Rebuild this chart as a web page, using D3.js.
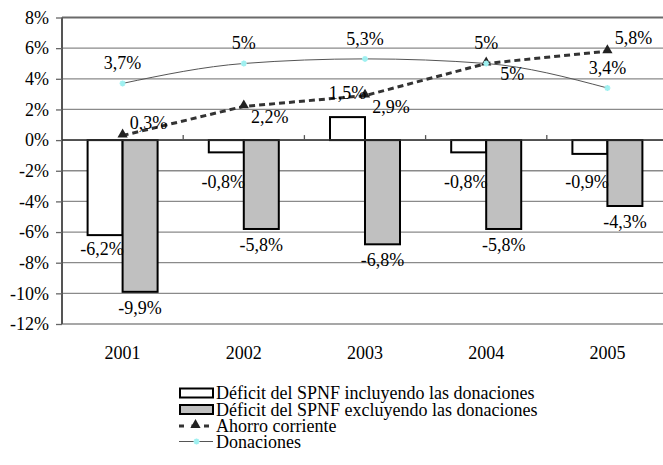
<!DOCTYPE html>
<html>
<head>
<meta charset="utf-8">
<script src="https://cdn.jsdelivr.net/npm/d3@7"></script>
<style>
  html, body { margin: 0; padding: 0; background: #fff; }
  svg { display: block; }
</style>
</head>
<body>
<svg id="chart" width="663" height="465"></svg>
<script>
// ---- data ----
const years = ["2001", "2002", "2003", "2004", "2005"];
const deficitIncl = [-6.2, -0.8, 1.5, -0.8, -0.9];
const deficitExcl = [-9.9, -5.8, -6.8, -5.8, -4.3];
const ahorro = [0.3, 2.2, 2.9, 5.0, 5.8];
const donaciones = [3.7, 5.0, 5.3, 5.0, 3.4];
const yTicks = [-12, -10, -8, -6, -4, -2, 0, 2, 4, 6, 8];
const legendLabels = [
  "Déficit del SPNF incluyendo las donaciones",
  "Déficit del SPNF excluyendo las donaciones",
  "Ahorro corriente",
  "Donaciones"
];

// ---- layout ----
const svg = d3.select("#chart");
const plot = { left: 62, right: 668, top: 17.5, bottom: 324 };
const FONT = "18px";
const FAM = "'Liberation Serif', serif";
const styleText = sel => sel.style("font-family", FAM).style("font-size", FONT).style("fill", "#000");

const x = d3.scaleBand().domain(years).range([plot.left, plot.right]).padding(0);
const y = d3.scaleLinear().domain([-12, 8]).range([plot.bottom, plot.top]);
const barW = 35;
const fmt = v => String(v).replace(".", ",") + "%";
const cx = yr => x(yr) + x.bandwidth() / 2;

// gridlines
svg.append("g").selectAll("line").data(yTicks).join("line")
  .attr("x1", plot.left).attr("x2", plot.right)
  .attr("y1", d => y(d)).attr("y2", d => y(d))
  .attr("stroke", d => d === 8 ? "#6a6a6a" : "#8a8a8a")
  .attr("stroke-width", d => d === 8 ? 2 : 1.3);

// y axis
const yAxis = d3.axisLeft(y).tickValues(yTicks).tickSize(6).tickPadding(7)
  .tickFormat(d => d + "%");
const gy = svg.append("g").attr("transform", `translate(${plot.left},0)`).call(yAxis)
  .attr("font-family", null).attr("font-size", null);
gy.select(".domain").attr("stroke", "#555").attr("stroke-width", 2).attr("d", `M0,${plot.top}V${plot.bottom}`);
gy.selectAll(".tick line").attr("stroke", "#666").attr("stroke-width", 1.3);
gy.selectAll(".tick text").call(styleText);

// bars
const gBars = svg.append("g");
gBars.selectAll("rect.incl").data(years).join("rect").attr("class", "incl")
  .attr("x", (d) => cx(d) - barW)
  .attr("width", barW)
  .attr("y", (d, i) => y(Math.max(0, deficitIncl[i])))
  .attr("height", (d, i) => Math.abs(y(deficitIncl[i]) - y(0)))
  .attr("fill", "#fff").attr("stroke", "#000").attr("stroke-width", 2);
gBars.selectAll("rect.excl").data(years).join("rect").attr("class", "excl")
  .attr("x", (d) => cx(d))
  .attr("width", barW)
  .attr("y", (d, i) => y(Math.max(0, deficitExcl[i])))
  .attr("height", (d, i) => Math.abs(y(deficitExcl[i]) - y(0)))
  .attr("fill", "#c0c0c0").attr("stroke", "#000").attr("stroke-width", 2);

// x axis at 0
const gx = svg.append("g").attr("transform", `translate(0,${y(0)})`);
gx.append("line").attr("x1", plot.left).attr("x2", plot.right).attr("stroke", "#333").attr("stroke-width", 1.5);
gx.selectAll("line.tk").data(years.slice(1)).join("line").attr("class", "tk")
  .attr("x1", d => x(d)).attr("x2", d => x(d)).attr("y1", 0).attr("y2", -5)
  .attr("stroke", "#555").attr("stroke-width", 1.3);

// x labels
svg.append("g").selectAll("text").data(years).join("text")
  .attr("x", d => cx(d)).attr("y", 353)
  .attr("text-anchor", "middle").attr("dominant-baseline", "central")
  .call(styleText).text(d => d);

// ahorro line (dashed, triangles)
const ahorroPts = years.map((d, i) => [cx(d), y(ahorro[i])]);
svg.append("path").datum(ahorroPts)
  .attr("d", d3.line())
  .attr("fill", "none").attr("stroke", "#333").attr("stroke-width", 3)
  .attr("stroke-dasharray", "6,4");
const tri = d3.symbol().type(d3.symbolTriangle).size(45);
svg.append("g").selectAll("path").data(ahorroPts).join("path")
  .attr("transform", d => `translate(${d[0]},${d[1] - 1})`)
  .attr("d", tri).attr("fill", "#222");

// donaciones line (smooth)
const donPts = years.map((d, i) => [cx(d), y(donaciones[i])]);
svg.append("path").datum(donPts)
  .attr("d", d3.line().curve(d3.curveMonotoneX))
  .attr("fill", "none").attr("stroke", "#555").attr("stroke-width", 1);
function star(g, px, py) {
  const s = 3;
  g.append("path")
    .attr("d", `M${px - s},${py}H${px + s}M${px},${py - s}V${py + s}M${px - s * .7},${py - s * .7}L${px + s * .7},${py + s * .7}M${px - s * .7},${py + s * .7}L${px + s * .7},${py - s * .7}`)
    .attr("stroke", "#9ff0f0").attr("stroke-width", 1.6).attr("fill", "none");
}
const gStars = svg.append("g");
donPts.forEach(p => star(gStars, p[0], p[1]));

// data labels
const gl = svg.append("g");
function lbl(px, py, t) {
  gl.append("text").attr("x", px).attr("y", py)
    .attr("text-anchor", "middle").attr("dominant-baseline", "central")
    .call(styleText).text(t);
}
years.forEach((yr, i) => {
  // donaciones: above point
  lbl(cx(yr), y(donaciones[i]) - 20, fmt(donaciones[i]));
  // ahorro: right of point, above at ends, below otherwise
  const endpt = (i === 0 || i === years.length - 1);
  lbl(cx(yr) + 26, y(ahorro[i]) + (endpt ? -13 : 11), fmt(ahorro[i]));
  // incl bars
  const vi = deficitIncl[i];
  if (vi >= 0) lbl(cx(yr) - barW / 2, y(vi) - 24, fmt(vi));
  else lbl(cx(yr) - barW / 2 - 3, Math.max(y(vi) + 14, y(0) + 42), fmt(vi));
  // excl bars
  const ve = deficitExcl[i];
  lbl(cx(yr) + barW / 2, y(ve) + 16, fmt(ve));
});

// legend
const lg = svg.append("g");
const rowY = [393, 409.5, 426, 441.5];
const lx0 = 180, lx1 = 213;
lg.append("rect").attr("x", lx0).attr("y", rowY[0] - 4.5).attr("width", lx1 - lx0).attr("height", 9)
  .attr("fill", "#fff").attr("stroke", "#000").attr("stroke-width", 2);
lg.append("rect").attr("x", lx0).attr("y", rowY[1] - 4.5).attr("width", lx1 - lx0).attr("height", 9)
  .attr("fill", "#c0c0c0").attr("stroke", "#000").attr("stroke-width", 2);
lg.append("line").attr("x1", lx0 - 1).attr("x2", lx1).attr("y1", rowY[2]).attr("y2", rowY[2])
  .attr("stroke", "#333").attr("stroke-width", 3).attr("stroke-dasharray", "5,7.5");
lg.append("path").attr("transform", `translate(${(lx0 + lx1) / 2 - 1},${rowY[2] - 1})`).attr("d", tri).attr("fill", "#222");
lg.append("line").attr("x1", lx0 - 1).attr("x2", lx1).attr("y1", rowY[3]).attr("y2", rowY[3])
  .attr("stroke", "#555").attr("stroke-width", 1);
star(lg, (lx0 + lx1) / 2, rowY[3]);
lg.selectAll("text").data(legendLabels).join("text")
  .attr("x", lx1 + 3).attr("y", (d, i) => rowY[i])
  .attr("dominant-baseline", "central").call(styleText).text(d => d);
</script>
</body>
</html>
